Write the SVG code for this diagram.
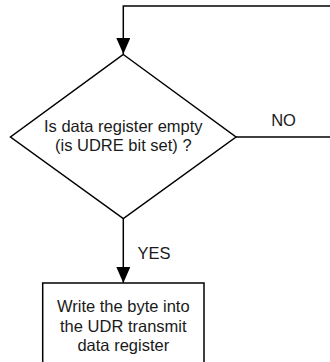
<svg xmlns="http://www.w3.org/2000/svg" width="330" height="362" viewBox="0 0 330 362">
<defs>
<marker id="arr" viewBox="0 0 16 14" refX="16" refY="7" markerWidth="16" markerHeight="14" markerUnits="userSpaceOnUse" orient="auto">
<path d="M0,0 L16,7 L0,14 Z" fill="#000"/>
</marker>
<style>
.shape{fill:#fff;stroke:#000;stroke-width:1.5}
.conn{fill:none;stroke:#000;stroke-width:1.5}
text{font-family:"Liberation Sans",Arial,sans-serif;font-size:16.5px;fill:#1a1a1a;text-anchor:middle}
</style>
</defs>
<g id="connectors">
<path class="conn" d="M330,6 H123.3 V54" marker-end="url(#arr)"/>
<path class="conn" d="M236,137 H330"/>
<path class="conn" d="M123.3,218.5 V283" marker-end="url(#arr)"/>
<text x="283.5" y="126">NO</text>
<text x="154" y="259">YES</text>
</g>
<g id="decision">
<polygon class="shape" points="123.3,54.5 236,137 123.3,218.5 10.5,137"/>
<text x="123.3" y="132">Is data register empty</text>
<text x="123.3" y="151">(is UDRE bit set) ?</text>
</g>
<g id="write">
<rect class="shape" x="42.7" y="283" width="161.3" height="90"/>
<text x="123.3" y="312">Write the byte into</text>
<text x="123.3" y="331.5">the UDR transmit</text>
<text x="123.3" y="351">data register</text>
</g>
</svg>
